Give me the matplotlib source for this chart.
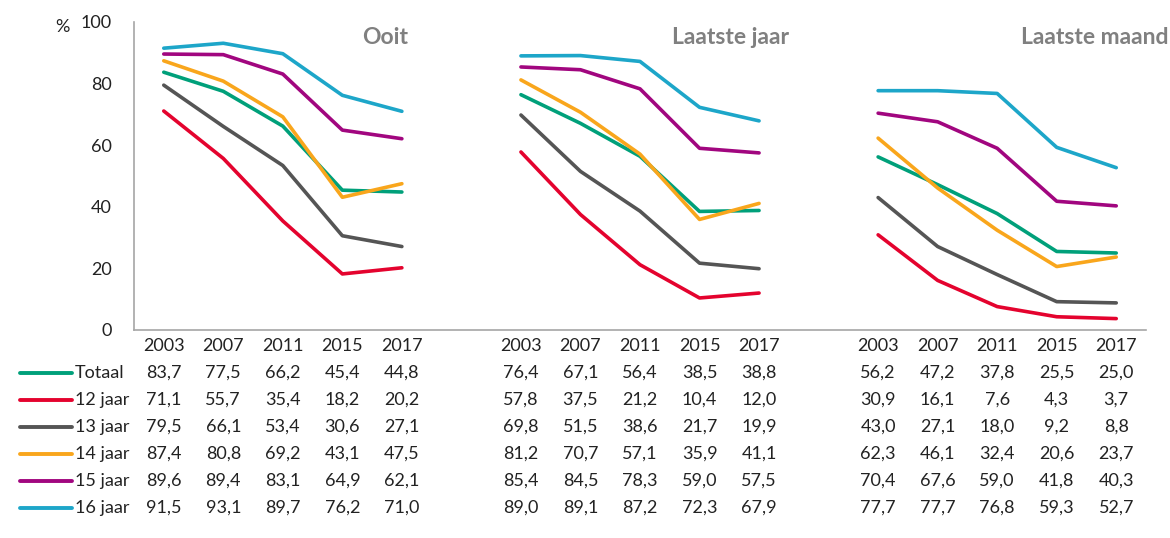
import matplotlib
matplotlib.use("Agg")
import matplotlib.pyplot as plt
from matplotlib.lines import Line2D

plt.rcParams['font.family'] = ['Lato', 'DejaVu Sans']

years = ['2003', '2007', '2011', '2015', '2017']
panels = ['Ooit', 'Laatste jaar', 'Laatste maand']
groups = ['Totaal', '12 jaar', '13 jaar', '14 jaar', '15 jaar', '16 jaar']
colors = ['#00a07a', '#e4032e', '#555555', '#f9a61c', '#a1067f', '#1da6c9']

# one list per group: Ooit | Laatste jaar | Laatste maand
totaal = [83.7, 77.5, 66.2, 45.4, 44.8, 76.4, 67.1, 56.4, 38.5, 38.8, 56.2, 47.2, 37.8, 25.5, 25.0]
jaar12 = [71.1, 55.7, 35.4, 18.2, 20.2, 57.8, 37.5, 21.2, 10.4, 12.0, 30.9, 16.1, 7.6, 4.3, 3.7]
jaar13 = [79.5, 66.1, 53.4, 30.6, 27.1, 69.8, 51.5, 38.6, 21.7, 19.9, 43.0, 27.1, 18.0, 9.2, 8.8]
jaar14 = [87.4, 80.8, 69.2, 43.1, 47.5, 81.2, 70.7, 57.1, 35.9, 41.1, 62.3, 46.1, 32.4, 20.6, 23.7]
jaar15 = [89.6, 89.4, 83.1, 64.9, 62.1, 85.4, 84.5, 78.3, 59.0, 57.5, 70.4, 67.6, 59.0, 41.8, 40.3]
jaar16 = [91.5, 93.1, 89.7, 76.2, 71.0, 89.0, 89.1, 87.2, 72.3, 67.9, 77.7, 77.7, 76.8, 59.3, 52.7]
series = [totaal, jaar12, jaar13, jaar14, jaar15, jaar16]

W, H = 1170, 538
FS = 13
fig = plt.figure(figsize=(W / 100, H / 100), dpi=100)
ax = fig.add_axes([134 / W, 1 - 330 / H, (1146 - 134) / W, (330 - 22) / H])

# x slots: 5 per panel with one empty slot between panels
xpos = []
for p in range(3):
    xpos.append([p * 6 + i for i in range(5)])

for vals, c in zip(series, colors):
    for p in range(3):
        ax.plot(xpos[p], vals[p * 5:(p + 1) * 5], color=c, lw=2.6,
                solid_capstyle='round', solid_joinstyle='round')

ax.set_xlim(-0.5, 16.5)
ax.set_ylim(0, 100)
ax.set_yticks([0, 20, 40, 60, 80, 100])
ax.set_yticklabels(['0', '20', '40', '60', '80', '100'])
ax.set_xticks([])
ax.tick_params(axis='y', length=0, pad=16, labelsize=FS, colors='#222222')
for s in ['top', 'right']:
    ax.spines[s].set_visible(False)
for s in ['left', 'bottom']:
    ax.spines[s].set_color('#a6a6a6')
    ax.spines[s].set_linewidth(1.2)

fig.text(62 / W, 1 - 27 / H, '%', fontsize=FS, ha='center', va='center', color='#222222')

# panel titles
title_x = [4.1, 10.5, 16.87]
for t, x in zip(panels, title_x):
    ax.text(x, 0.95, t, transform=ax.get_xaxis_transform(), ha='right', va='center',
            fontsize=16.5, fontweight='bold', color='#808080', clip_on=False)

# data table below the chart
trans = ax.get_xaxis_transform()
row_y = [346, 373, 400, 427, 454, 481, 508]

def fy(py):
    return 1 - py / H

def to_axes(py):
    return (fy(py) - (1 - 330 / H)) / ((330 - 22) / H)

for p in range(3):
    for i, yr in enumerate(years):
        ax.text(xpos[p][i], to_axes(row_y[0]), yr, transform=trans, ha='center', va='center',
                fontsize=FS, color='#222222', clip_on=False)

for r, (g, vals, c) in enumerate(zip(groups, series, colors)):
    py = row_y[r + 1]
    fig.add_artist(Line2D([20 / W, 72 / W], [fy(py), fy(py)], color=c, lw=2.8,
                          solid_capstyle='round'))
    fig.text(75 / W, fy(py), g, fontsize=FS, ha='left', va='center', color='#222222')
    for p in range(3):
        for i in range(5):
            v = vals[p * 5 + i]
            ax.text(xpos[p][i], to_axes(py), f'{v:.1f}'.replace('.', ','), transform=trans,
                    ha='center', va='center', fontsize=FS, color='#222222', clip_on=False)

fig.savefig('out.png', dpi=100)
